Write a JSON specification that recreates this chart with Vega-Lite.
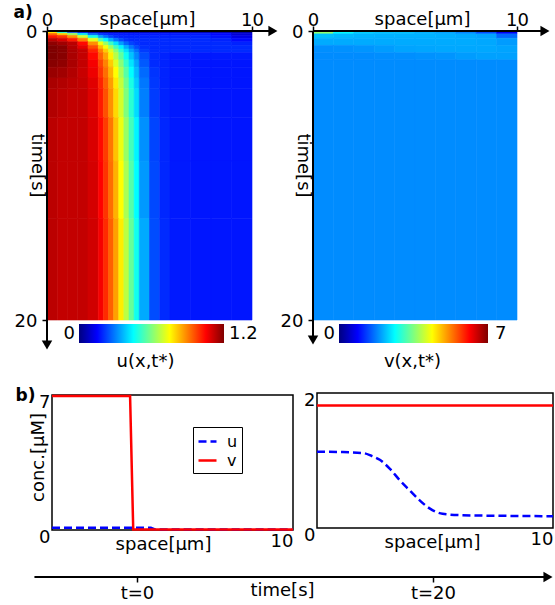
{
"$schema": "https://vega.github.io/schema/vega-lite/v6.json",
"width": 555,
"height": 605,
"autosize": {"type": "none"},
"padding": 0,
"background": "white",
"config": {
  "font": "DejaVu Sans",
  "view": {"stroke": null},
  "axis": {"labelFontSize": 18, "titleFontSize": 18, "titleFontWeight": "normal", "labelColor": "black", "titleColor": "black", "tickColor": "black", "domainColor": "black", "grid": false, "labelFont": "DejaVu Sans", "titleFont": "DejaVu Sans"},
  "legend": {"labelFont": "DejaVu Sans", "labelColor": "black"}
},
"resolve": {"scale": {"x": "independent", "y": "independent", "fill": "independent", "stroke": "independent"}},
"layer": [
{
  "layer": [
  {
    "data": {"values": [
{"x0":0,"x1":0.5,"t0":0,"t1":0.15,"u":0.75},{"x0":0.5,"x1":1,"t0":0,"t1":0.15,"u":0.45},{"x0":1,"x1":1.5,"t0":0,"t1":0.15,"u":0.22},{"x0":1.5,"x1":2,"t0":0,"t1":0.15,"u":0.1},{"x0":2,"x1":2.5,"t0":0,"t1":0.15,"u":0.05},{"x0":2.5,"x1":2.75,"t0":0,"t1":0.15,"u":0.05},{"x0":2.75,"x1":3,"t0":0,"t1":0.15,"u":0.05},{"x0":3,"x1":3.25,"t0":0,"t1":0.15,"u":0.05},{"x0":3.25,"x1":3.5,"t0":0,"t1":0.15,"u":0.05},{"x0":3.5,"x1":3.75,"t0":0,"t1":0.15,"u":0.05},{"x0":3.75,"x1":4,"t0":0,"t1":0.15,"u":0.05},{"x0":4,"x1":4.25,"t0":0,"t1":0.15,"u":0.05},{"x0":4.25,"x1":4.5,"t0":0,"t1":0.15,"u":0.05},{"x0":4.5,"x1":5,"t0":0,"t1":0.15,"u":0.05},{"x0":5,"x1":5.5,"t0":0,"t1":0.15,"u":0.05},{"x0":5.5,"x1":6,"t0":0,"t1":0.15,"u":0.05},{"x0":6,"x1":7,"t0":0,"t1":0.15,"u":0.05},{"x0":7,"x1":8,"t0":0,"t1":0.15,"u":0.05},{"x0":8,"x1":9,"t0":0,"t1":0.15,"u":0.05},{"x0":9,"x1":10,"t0":0,"t1":0.15,"u":0.04},
{"x0":0,"x1":0.5,"t0":0.15,"t1":0.3,"u":0.92},{"x0":0.5,"x1":1,"t0":0.15,"t1":0.3,"u":0.806},{"x0":1,"x1":1.5,"t0":0.15,"t1":0.3,"u":0.633},{"x0":1.5,"x1":2,"t0":0.15,"t1":0.3,"u":0.418},{"x0":2,"x1":2.5,"t0":0.15,"t1":0.3,"u":0.27},{"x0":2.5,"x1":2.75,"t0":0.15,"t1":0.3,"u":0.21},{"x0":2.75,"x1":3,"t0":0.15,"t1":0.3,"u":0.195},{"x0":3,"x1":3.25,"t0":0.15,"t1":0.3,"u":0.18},{"x0":3.25,"x1":3.5,"t0":0.15,"t1":0.3,"u":0.18},{"x0":3.5,"x1":3.75,"t0":0.15,"t1":0.3,"u":0.18},{"x0":3.75,"x1":4,"t0":0.15,"t1":0.3,"u":0.18},{"x0":4,"x1":4.25,"t0":0.15,"t1":0.3,"u":0.18},{"x0":4.25,"x1":4.5,"t0":0.15,"t1":0.3,"u":0.18},{"x0":4.5,"x1":5,"t0":0.15,"t1":0.3,"u":0.18},{"x0":5,"x1":5.5,"t0":0.15,"t1":0.3,"u":0.18},{"x0":5.5,"x1":6,"t0":0.15,"t1":0.3,"u":0.18},{"x0":6,"x1":7,"t0":0.15,"t1":0.3,"u":0.18},{"x0":7,"x1":8,"t0":0.15,"t1":0.3,"u":0.18},{"x0":8,"x1":9,"t0":0.15,"t1":0.3,"u":0.16},{"x0":9,"x1":10,"t0":0.15,"t1":0.3,"u":0.1},
{"x0":0,"x1":0.5,"t0":0.3,"t1":0.5,"u":1.02},{"x0":0.5,"x1":1,"t0":0.3,"t1":0.5,"u":0.986},{"x0":1,"x1":1.5,"t0":0.3,"t1":0.5,"u":0.878},{"x0":1.5,"x1":2,"t0":0.3,"t1":0.5,"u":0.69},{"x0":2,"x1":2.5,"t0":0.3,"t1":0.5,"u":0.475},{"x0":2.5,"x1":2.75,"t0":0.3,"t1":0.5,"u":0.34},{"x0":2.75,"x1":3,"t0":0.3,"t1":0.5,"u":0.28},{"x0":3,"x1":3.25,"t0":0.3,"t1":0.5,"u":0.23},{"x0":3.25,"x1":3.5,"t0":0.3,"t1":0.5,"u":0.2},{"x0":3.5,"x1":3.75,"t0":0.3,"t1":0.5,"u":0.19},{"x0":3.75,"x1":4,"t0":0.3,"t1":0.5,"u":0.19},{"x0":4,"x1":4.25,"t0":0.3,"t1":0.5,"u":0.19},{"x0":4.25,"x1":4.5,"t0":0.3,"t1":0.5,"u":0.19},{"x0":4.5,"x1":5,"t0":0.3,"t1":0.5,"u":0.19},{"x0":5,"x1":5.5,"t0":0.3,"t1":0.5,"u":0.19},{"x0":5.5,"x1":6,"t0":0.3,"t1":0.5,"u":0.19},{"x0":6,"x1":7,"t0":0.3,"t1":0.5,"u":0.19},{"x0":7,"x1":8,"t0":0.3,"t1":0.5,"u":0.19},{"x0":8,"x1":9,"t0":0.3,"t1":0.5,"u":0.17},{"x0":9,"x1":10,"t0":0.3,"t1":0.5,"u":0.12},
{"x0":0,"x1":0.5,"t0":0.5,"t1":0.75,"u":1.13},{"x0":0.5,"x1":1,"t0":0.5,"t1":0.75,"u":1.095},{"x0":1,"x1":1.5,"t0":0.5,"t1":0.75,"u":1.02},{"x0":1.5,"x1":2,"t0":0.5,"t1":0.75,"u":0.904},{"x0":2,"x1":2.5,"t0":0.5,"t1":0.75,"u":0.718},{"x0":2.5,"x1":2.75,"t0":0.5,"t1":0.75,"u":0.552},{"x0":2.75,"x1":3,"t0":0.5,"t1":0.75,"u":0.444},{"x0":3,"x1":3.25,"t0":0.5,"t1":0.75,"u":0.356},{"x0":3.25,"x1":3.5,"t0":0.5,"t1":0.75,"u":0.288},{"x0":3.5,"x1":3.75,"t0":0.5,"t1":0.75,"u":0.238},{"x0":3.75,"x1":4,"t0":0.5,"t1":0.75,"u":0.21},{"x0":4,"x1":4.25,"t0":0.5,"t1":0.75,"u":0.2},{"x0":4.25,"x1":4.5,"t0":0.5,"t1":0.75,"u":0.2},{"x0":4.5,"x1":5,"t0":0.5,"t1":0.75,"u":0.2},{"x0":5,"x1":5.5,"t0":0.5,"t1":0.75,"u":0.2},{"x0":5.5,"x1":6,"t0":0.5,"t1":0.75,"u":0.2},{"x0":6,"x1":7,"t0":0.5,"t1":0.75,"u":0.2},{"x0":7,"x1":8,"t0":0.5,"t1":0.75,"u":0.2},{"x0":8,"x1":9,"t0":0.5,"t1":0.75,"u":0.19},{"x0":9,"x1":10,"t0":0.5,"t1":0.75,"u":0.16},
{"x0":0,"x1":0.5,"t0":0.75,"t1":1,"u":1.18},{"x0":0.5,"x1":1,"t0":0.75,"t1":1,"u":1.16},{"x0":1,"x1":1.5,"t0":0.75,"t1":1,"u":1.13},{"x0":1.5,"x1":2,"t0":0.75,"t1":1,"u":1.04},{"x0":2,"x1":2.5,"t0":0.75,"t1":1,"u":0.88},{"x0":2.5,"x1":2.75,"t0":0.75,"t1":1,"u":0.74},{"x0":2.75,"x1":3,"t0":0.75,"t1":1,"u":0.63},{"x0":3,"x1":3.25,"t0":0.75,"t1":1,"u":0.52},{"x0":3.25,"x1":3.5,"t0":0.75,"t1":1,"u":0.42},{"x0":3.5,"x1":3.75,"t0":0.75,"t1":1,"u":0.335},{"x0":3.75,"x1":4,"t0":0.75,"t1":1,"u":0.27},{"x0":4,"x1":4.25,"t0":0.75,"t1":1,"u":0.23},{"x0":4.25,"x1":4.5,"t0":0.75,"t1":1,"u":0.21},{"x0":4.5,"x1":5,"t0":0.75,"t1":1,"u":0.2},{"x0":5,"x1":5.5,"t0":0.75,"t1":1,"u":0.2},{"x0":5.5,"x1":6,"t0":0.75,"t1":1,"u":0.2},{"x0":6,"x1":7,"t0":0.75,"t1":1,"u":0.2},{"x0":7,"x1":8,"t0":0.75,"t1":1,"u":0.2},{"x0":8,"x1":9,"t0":0.75,"t1":1,"u":0.2},{"x0":9,"x1":10,"t0":0.75,"t1":1,"u":0.19},
{"x0":0,"x1":0.5,"t0":1,"t1":1.25,"u":1.2},{"x0":0.5,"x1":1,"t0":1,"t1":1.25,"u":1.19},{"x0":1,"x1":1.5,"t0":1,"t1":1.25,"u":1.14},{"x0":1.5,"x1":2,"t0":1,"t1":1.25,"u":1.08},{"x0":2,"x1":2.5,"t0":1,"t1":1.25,"u":0.96},{"x0":2.5,"x1":2.75,"t0":1,"t1":1.25,"u":0.83},{"x0":2.75,"x1":3,"t0":1,"t1":1.25,"u":0.74},{"x0":3,"x1":3.25,"t0":1,"t1":1.25,"u":0.63},{"x0":3.25,"x1":3.5,"t0":1,"t1":1.25,"u":0.53},{"x0":3.5,"x1":3.75,"t0":1,"t1":1.25,"u":0.44},{"x0":3.75,"x1":4,"t0":1,"t1":1.25,"u":0.355},{"x0":4,"x1":4.25,"t0":1,"t1":1.25,"u":0.29},{"x0":4.25,"x1":4.5,"t0":1,"t1":1.25,"u":0.24},{"x0":4.5,"x1":5,"t0":1,"t1":1.25,"u":0.205},{"x0":5,"x1":5.5,"t0":1,"t1":1.25,"u":0.2},{"x0":5.5,"x1":6,"t0":1,"t1":1.25,"u":0.2},{"x0":6,"x1":7,"t0":1,"t1":1.25,"u":0.2},{"x0":7,"x1":8,"t0":1,"t1":1.25,"u":0.2},{"x0":8,"x1":9,"t0":1,"t1":1.25,"u":0.2},{"x0":9,"x1":10,"t0":1,"t1":1.25,"u":0.2},
{"x0":0,"x1":0.5,"t0":1.25,"t1":1.5,"u":1.2},{"x0":0.5,"x1":1,"t0":1.25,"t1":1.5,"u":1.19},{"x0":1,"x1":1.5,"t0":1.25,"t1":1.5,"u":1.15},{"x0":1.5,"x1":2,"t0":1.25,"t1":1.5,"u":1.12},{"x0":2,"x1":2.5,"t0":1.25,"t1":1.5,"u":1.01},{"x0":2.5,"x1":2.75,"t0":1.25,"t1":1.5,"u":0.9},{"x0":2.75,"x1":3,"t0":1.25,"t1":1.5,"u":0.81},{"x0":3,"x1":3.25,"t0":1.25,"t1":1.5,"u":0.71},{"x0":3.25,"x1":3.5,"t0":1.25,"t1":1.5,"u":0.61},{"x0":3.5,"x1":3.75,"t0":1.25,"t1":1.5,"u":0.51},{"x0":3.75,"x1":4,"t0":1.25,"t1":1.5,"u":0.415},{"x0":4,"x1":4.25,"t0":1.25,"t1":1.5,"u":0.34},{"x0":4.25,"x1":4.5,"t0":1.25,"t1":1.5,"u":0.28},{"x0":4.5,"x1":5,"t0":1.25,"t1":1.5,"u":0.22},{"x0":5,"x1":5.5,"t0":1.25,"t1":1.5,"u":0.2},{"x0":5.5,"x1":6,"t0":1.25,"t1":1.5,"u":0.2},{"x0":6,"x1":7,"t0":1.25,"t1":1.5,"u":0.2},{"x0":7,"x1":8,"t0":1.25,"t1":1.5,"u":0.2},{"x0":8,"x1":9,"t0":1.25,"t1":1.5,"u":0.2},{"x0":9,"x1":10,"t0":1.25,"t1":1.5,"u":0.2},
{"x0":0,"x1":0.5,"t0":1.5,"t1":2,"u":1.2},{"x0":0.5,"x1":1,"t0":1.5,"t1":2,"u":1.19},{"x0":1,"x1":1.5,"t0":1.5,"t1":2,"u":1.15},{"x0":1.5,"x1":2,"t0":1.5,"t1":2,"u":1.12},{"x0":2,"x1":2.5,"t0":1.5,"t1":2,"u":1.04},{"x0":2.5,"x1":2.75,"t0":1.5,"t1":2,"u":0.935},{"x0":2.75,"x1":3,"t0":1.5,"t1":2,"u":0.86},{"x0":3,"x1":3.25,"t0":1.5,"t1":2,"u":0.765},{"x0":3.25,"x1":3.5,"t0":1.5,"t1":2,"u":0.665},{"x0":3.5,"x1":3.75,"t0":1.5,"t1":2,"u":0.565},{"x0":3.75,"x1":4,"t0":1.5,"t1":2,"u":0.465},{"x0":4,"x1":4.25,"t0":1.5,"t1":2,"u":0.38},{"x0":4.25,"x1":4.5,"t0":1.5,"t1":2,"u":0.31},{"x0":4.5,"x1":5,"t0":1.5,"t1":2,"u":0.24},{"x0":5,"x1":5.5,"t0":1.5,"t1":2,"u":0.2},{"x0":5.5,"x1":6,"t0":1.5,"t1":2,"u":0.19},{"x0":6,"x1":7,"t0":1.5,"t1":2,"u":0.18},{"x0":7,"x1":8,"t0":1.5,"t1":2,"u":0.18},{"x0":8,"x1":9,"t0":1.5,"t1":2,"u":0.18},{"x0":9,"x1":10,"t0":1.5,"t1":2,"u":0.18},
{"x0":0,"x1":0.5,"t0":2,"t1":2.5,"u":1.19},{"x0":0.5,"x1":1,"t0":2,"t1":2.5,"u":1.18},{"x0":1,"x1":1.5,"t0":2,"t1":2.5,"u":1.15},{"x0":1.5,"x1":2,"t0":2,"t1":2.5,"u":1.12},{"x0":2,"x1":2.5,"t0":2,"t1":2.5,"u":1.06},{"x0":2.5,"x1":2.75,"t0":2,"t1":2.5,"u":0.97},{"x0":2.75,"x1":3,"t0":2,"t1":2.5,"u":0.895},{"x0":3,"x1":3.25,"t0":2,"t1":2.5,"u":0.81},{"x0":3.25,"x1":3.5,"t0":2,"t1":2.5,"u":0.71},{"x0":3.5,"x1":3.75,"t0":2,"t1":2.5,"u":0.61},{"x0":3.75,"x1":4,"t0":2,"t1":2.5,"u":0.51},{"x0":4,"x1":4.25,"t0":2,"t1":2.5,"u":0.42},{"x0":4.25,"x1":4.5,"t0":2,"t1":2.5,"u":0.345},{"x0":4.5,"x1":5,"t0":2,"t1":2.5,"u":0.255},{"x0":5,"x1":5.5,"t0":2,"t1":2.5,"u":0.2},{"x0":5.5,"x1":6,"t0":2,"t1":2.5,"u":0.19},{"x0":6,"x1":7,"t0":2,"t1":2.5,"u":0.18},{"x0":7,"x1":8,"t0":2,"t1":2.5,"u":0.175},{"x0":8,"x1":9,"t0":2,"t1":2.5,"u":0.175},{"x0":9,"x1":10,"t0":2,"t1":2.5,"u":0.175},
{"x0":0,"x1":0.5,"t0":2.5,"t1":3.25,"u":1.17},{"x0":0.5,"x1":1,"t0":2.5,"t1":3.25,"u":1.16},{"x0":1,"x1":1.5,"t0":2.5,"t1":3.25,"u":1.14},{"x0":1.5,"x1":2,"t0":2.5,"t1":3.25,"u":1.115},{"x0":2,"x1":2.5,"t0":2.5,"t1":3.25,"u":1.07},{"x0":2.5,"x1":2.75,"t0":2.5,"t1":3.25,"u":0.99},{"x0":2.75,"x1":3,"t0":2.5,"t1":3.25,"u":0.92},{"x0":3,"x1":3.25,"t0":2.5,"t1":3.25,"u":0.84},{"x0":3.25,"x1":3.5,"t0":2.5,"t1":3.25,"u":0.75},{"x0":3.5,"x1":3.75,"t0":2.5,"t1":3.25,"u":0.65},{"x0":3.75,"x1":4,"t0":2.5,"t1":3.25,"u":0.55},{"x0":4,"x1":4.25,"t0":2.5,"t1":3.25,"u":0.45},{"x0":4.25,"x1":4.5,"t0":2.5,"t1":3.25,"u":0.37},{"x0":4.5,"x1":5,"t0":2.5,"t1":3.25,"u":0.275},{"x0":5,"x1":5.5,"t0":2.5,"t1":3.25,"u":0.21},{"x0":5.5,"x1":6,"t0":2.5,"t1":3.25,"u":0.19},{"x0":6,"x1":7,"t0":2.5,"t1":3.25,"u":0.18},{"x0":7,"x1":8,"t0":2.5,"t1":3.25,"u":0.175},{"x0":8,"x1":9,"t0":2.5,"t1":3.25,"u":0.175},{"x0":9,"x1":10,"t0":2.5,"t1":3.25,"u":0.175},
{"x0":0,"x1":0.5,"t0":3.25,"t1":4,"u":1.15},{"x0":0.5,"x1":1,"t0":3.25,"t1":4,"u":1.14},{"x0":1,"x1":1.5,"t0":3.25,"t1":4,"u":1.13},{"x0":1.5,"x1":2,"t0":3.25,"t1":4,"u":1.12},{"x0":2,"x1":2.5,"t0":3.25,"t1":4,"u":1.085},{"x0":2.5,"x1":2.75,"t0":3.25,"t1":4,"u":1.01},{"x0":2.75,"x1":3,"t0":3.25,"t1":4,"u":0.94},{"x0":3,"x1":3.25,"t0":3.25,"t1":4,"u":0.865},{"x0":3.25,"x1":3.5,"t0":3.25,"t1":4,"u":0.775},{"x0":3.5,"x1":3.75,"t0":3.25,"t1":4,"u":0.68},{"x0":3.75,"x1":4,"t0":3.25,"t1":4,"u":0.58},{"x0":4,"x1":4.25,"t0":3.25,"t1":4,"u":0.48},{"x0":4.25,"x1":4.5,"t0":3.25,"t1":4,"u":0.39},{"x0":4.5,"x1":5,"t0":3.25,"t1":4,"u":0.29},{"x0":5,"x1":5.5,"t0":3.25,"t1":4,"u":0.215},{"x0":5.5,"x1":6,"t0":3.25,"t1":4,"u":0.19},{"x0":6,"x1":7,"t0":3.25,"t1":4,"u":0.18},{"x0":7,"x1":8,"t0":3.25,"t1":4,"u":0.175},{"x0":8,"x1":9,"t0":3.25,"t1":4,"u":0.175},{"x0":9,"x1":10,"t0":3.25,"t1":4,"u":0.175},
{"x0":0,"x1":0.5,"t0":4,"t1":6,"u":1.14},{"x0":0.5,"x1":1,"t0":4,"t1":6,"u":1.13},{"x0":1,"x1":1.5,"t0":4,"t1":6,"u":1.12},{"x0":1.5,"x1":2,"t0":4,"t1":6,"u":1.12},{"x0":2,"x1":2.5,"t0":4,"t1":6,"u":1.09},{"x0":2.5,"x1":2.75,"t0":4,"t1":6,"u":1.02},{"x0":2.75,"x1":3,"t0":4,"t1":6,"u":0.955},{"x0":3,"x1":3.25,"t0":4,"t1":6,"u":0.88},{"x0":3.25,"x1":3.5,"t0":4,"t1":6,"u":0.795},{"x0":3.5,"x1":3.75,"t0":4,"t1":6,"u":0.7},{"x0":3.75,"x1":4,"t0":4,"t1":6,"u":0.6},{"x0":4,"x1":4.25,"t0":4,"t1":6,"u":0.5},{"x0":4.25,"x1":4.5,"t0":4,"t1":6,"u":0.41},{"x0":4.5,"x1":5,"t0":4,"t1":6,"u":0.3},{"x0":5,"x1":5.5,"t0":4,"t1":6,"u":0.22},{"x0":5.5,"x1":6,"t0":4,"t1":6,"u":0.19},{"x0":6,"x1":7,"t0":4,"t1":6,"u":0.18},{"x0":7,"x1":8,"t0":4,"t1":6,"u":0.175},{"x0":8,"x1":9,"t0":4,"t1":6,"u":0.175},{"x0":9,"x1":10,"t0":4,"t1":6,"u":0.175},
{"x0":0,"x1":0.5,"t0":6,"t1":9,"u":1.13},{"x0":0.5,"x1":1,"t0":6,"t1":9,"u":1.12},{"x0":1,"x1":1.5,"t0":6,"t1":9,"u":1.12},{"x0":1.5,"x1":2,"t0":6,"t1":9,"u":1.12},{"x0":2,"x1":2.5,"t0":6,"t1":9,"u":1.095},{"x0":2.5,"x1":2.75,"t0":6,"t1":9,"u":1.04},{"x0":2.75,"x1":3,"t0":6,"t1":9,"u":0.98},{"x0":3,"x1":3.25,"t0":6,"t1":9,"u":0.91},{"x0":3.25,"x1":3.5,"t0":6,"t1":9,"u":0.82},{"x0":3.5,"x1":3.75,"t0":6,"t1":9,"u":0.73},{"x0":3.75,"x1":4,"t0":6,"t1":9,"u":0.63},{"x0":4,"x1":4.25,"t0":6,"t1":9,"u":0.53},{"x0":4.25,"x1":4.5,"t0":6,"t1":9,"u":0.44},{"x0":4.5,"x1":5,"t0":6,"t1":9,"u":0.32},{"x0":5,"x1":5.5,"t0":6,"t1":9,"u":0.23},{"x0":5.5,"x1":6,"t0":6,"t1":9,"u":0.195},{"x0":6,"x1":7,"t0":6,"t1":9,"u":0.18},{"x0":7,"x1":8,"t0":6,"t1":9,"u":0.175},{"x0":8,"x1":9,"t0":6,"t1":9,"u":0.175},{"x0":9,"x1":10,"t0":6,"t1":9,"u":0.175},
{"x0":0,"x1":0.5,"t0":9,"t1":13,"u":1.13},{"x0":0.5,"x1":1,"t0":9,"t1":13,"u":1.12},{"x0":1,"x1":1.5,"t0":9,"t1":13,"u":1.12},{"x0":1.5,"x1":2,"t0":9,"t1":13,"u":1.12},{"x0":2,"x1":2.5,"t0":9,"t1":13,"u":1.1},{"x0":2.5,"x1":2.75,"t0":9,"t1":13,"u":1.05},{"x0":2.75,"x1":3,"t0":9,"t1":13,"u":0.99},{"x0":3,"x1":3.25,"t0":9,"t1":13,"u":0.92},{"x0":3.25,"x1":3.5,"t0":9,"t1":13,"u":0.84},{"x0":3.5,"x1":3.75,"t0":9,"t1":13,"u":0.75},{"x0":3.75,"x1":4,"t0":9,"t1":13,"u":0.65},{"x0":4,"x1":4.25,"t0":9,"t1":13,"u":0.55},{"x0":4.25,"x1":4.5,"t0":9,"t1":13,"u":0.45},{"x0":4.5,"x1":5,"t0":9,"t1":13,"u":0.33},{"x0":5,"x1":5.5,"t0":9,"t1":13,"u":0.235},{"x0":5.5,"x1":6,"t0":9,"t1":13,"u":0.195},{"x0":6,"x1":7,"t0":9,"t1":13,"u":0.18},{"x0":7,"x1":8,"t0":9,"t1":13,"u":0.175},{"x0":8,"x1":9,"t0":9,"t1":13,"u":0.175},{"x0":9,"x1":10,"t0":9,"t1":13,"u":0.175},
{"x0":0,"x1":0.5,"t0":13,"t1":20,"u":1.13},{"x0":0.5,"x1":1,"t0":13,"t1":20,"u":1.12},{"x0":1,"x1":1.5,"t0":13,"t1":20,"u":1.12},{"x0":1.5,"x1":2,"t0":13,"t1":20,"u":1.12},{"x0":2,"x1":2.5,"t0":13,"t1":20,"u":1.105},{"x0":2.5,"x1":2.75,"t0":13,"t1":20,"u":1.06},{"x0":2.75,"x1":3,"t0":13,"t1":20,"u":1.0},{"x0":3,"x1":3.25,"t0":13,"t1":20,"u":0.935},{"x0":3.25,"x1":3.5,"t0":13,"t1":20,"u":0.86},{"x0":3.5,"x1":3.75,"t0":13,"t1":20,"u":0.77},{"x0":3.75,"x1":4,"t0":13,"t1":20,"u":0.67},{"x0":4,"x1":4.25,"t0":13,"t1":20,"u":0.57},{"x0":4.25,"x1":4.5,"t0":13,"t1":20,"u":0.47},{"x0":4.5,"x1":5,"t0":13,"t1":20,"u":0.35},{"x0":5,"x1":5.5,"t0":13,"t1":20,"u":0.24},{"x0":5.5,"x1":6,"t0":13,"t1":20,"u":0.2},{"x0":6,"x1":7,"t0":13,"t1":20,"u":0.18},{"x0":7,"x1":8,"t0":13,"t1":20,"u":0.175},{"x0":8,"x1":9,"t0":13,"t1":20,"u":0.175},{"x0":9,"x1":10,"t0":13,"t1":20,"u":0.175}
    ]},
    "mark": {"type": "rect", "strokeWidth": 0.6},
    "encoding": {
      "x": {"field": "x0", "type": "quantitative", "title": "space[µm]", "scale": {"domain": [0, 10], "range": [47, 252], "nice": false}, "axis": {"orient": "top", "offset": -31, "values": [0, 10], "title": "space[µm]", "domain": false, "tickSize": 5, "tickWidth": 1.5, "labelPadding": 1, "labelBaseline": "alphabetic", "labelFlush": false, "titleBaseline": "alphabetic", "titleY": -7, "titleX": 147}},
      "x2": {"field": "x1"},
      "y": {"field": "t0", "type": "quantitative", "title": "time[s]", "scale": {"domain": [0, 20], "range": [31, 320], "nice": false}, "axis": {"orient": "left", "offset": -47, "values": [0, 20], "title": "time[s]", "domain": false, "tickSize": 5, "tickWidth": 1.5, "labelPadding": 5, "labelBaseline": "middle", "labelOffset": 1, "titleAngle": 90, "titleBaseline": "top", "titleX": -2, "titleY": 165, "titleAlign": "center"}},
      "y2": {"field": "t1"},
      "fill": {"field": "u", "type": "quantitative", "scale": {"domain": [0, 0.15, 0.3, 0.45, 0.6, 0.75, 0.9, 1.05, 1.2], "range": ["#00007f", "#0000ff", "#007fff", "#00ffff", "#7fff7f", "#ffff00", "#ff7f00", "#ff0000", "#7f0000"], "interpolate": "rgb"}, "legend": null},
      "stroke": {"field": "u", "type": "quantitative", "scale": {"domain": [0, 0.15, 0.3, 0.45, 0.6, 0.75, 0.9, 1.05, 1.2], "range": ["#00007f", "#0000ff", "#007fff", "#00ffff", "#7fff7f", "#ffff00", "#ff7f00", "#ff0000", "#7f0000"], "interpolate": "rgb"}, "legend": null}
    }
  },
  {
    "data": {"values": [{"x": 0, "x2": 11.02, "y": 0, "y2": 0}, {"x": 0, "x2": 0, "y": 0, "y2": 21.73}]},
    "mark": {"type": "rule", "strokeWidth": 2, "color": "black"},
    "encoding": {"x": {"field": "x", "type": "quantitative", "title": "space[µm]"}, "x2": {"field": "x2"}, "y": {"field": "y", "type": "quantitative", "title": "time[s]"}, "y2": {"field": "y2"}}
  },
  {
    "data": {"values": [{"x": 11.02, "y": 0}]},
    "mark": {"type": "point", "shape": "triangle-right", "filled": true, "color": "black", "size": 110, "opacity": 1},
    "encoding": {"x": {"field": "x", "type": "quantitative", "title": "space[µm]"}, "y": {"field": "y", "type": "quantitative", "title": "time[s]"}}
  },
  {
    "data": {"values": [{"x": 0, "y": 21.73}]},
    "mark": {"type": "point", "shape": "triangle-down", "filled": true, "color": "black", "size": 110, "opacity": 1},
    "encoding": {"x": {"field": "x", "type": "quantitative", "title": "space[µm]"}, "y": {"field": "y", "type": "quantitative", "title": "time[s]"}}
  }
  ]
},
{
  "layer": [
  {
    "data": {"values": [
{"x0":0,"x1":1,"t0":0,"t1":0.2,"v":3.6},{"x0":1,"x1":2,"t0":0,"t1":0.2,"v":2.6},{"x0":2,"x1":3,"t0":0,"t1":0.2,"v":2.3},{"x0":3,"x1":4,"t0":0,"t1":0.2,"v":2.2},{"x0":4,"x1":5,"t0":0,"t1":0.2,"v":2.2},{"x0":5,"x1":6,"t0":0,"t1":0.2,"v":2.1},{"x0":6,"x1":7,"t0":0,"t1":0.2,"v":2.0},{"x0":7,"x1":8,"t0":0,"t1":0.2,"v":1.8},{"x0":8,"x1":9,"t0":0,"t1":0.2,"v":1.4},{"x0":9,"x1":10,"t0":0,"t1":0.2,"v":0.8},
{"x0":0,"x1":1,"t0":0.2,"t1":0.5,"v":2.2},{"x0":1,"x1":2,"t0":0.2,"t1":0.5,"v":2.15},{"x0":2,"x1":3,"t0":0.2,"t1":0.5,"v":2.12},{"x0":3,"x1":4,"t0":0.2,"t1":0.5,"v":2.1},{"x0":4,"x1":5,"t0":0.2,"t1":0.5,"v":2.1},{"x0":5,"x1":6,"t0":0.2,"t1":0.5,"v":2.1},{"x0":6,"x1":7,"t0":0.2,"t1":0.5,"v":2.08},{"x0":7,"x1":8,"t0":0.2,"t1":0.5,"v":2.05},{"x0":8,"x1":9,"t0":0.2,"t1":0.5,"v":2.0},{"x0":9,"x1":10,"t0":0.2,"t1":0.5,"v":1.6},
{"x0":0,"x1":1,"t0":0.5,"t1":1,"v":2.05},{"x0":1,"x1":2,"t0":0.5,"t1":1,"v":2.05},{"x0":2,"x1":3,"t0":0.5,"t1":1,"v":2.05},{"x0":3,"x1":4,"t0":0.5,"t1":1,"v":2.05},{"x0":4,"x1":5,"t0":0.5,"t1":1,"v":2.05},{"x0":5,"x1":6,"t0":0.5,"t1":1,"v":2.05},{"x0":6,"x1":7,"t0":0.5,"t1":1,"v":2.05},{"x0":7,"x1":8,"t0":0.5,"t1":1,"v":2.05},{"x0":8,"x1":9,"t0":0.5,"t1":1,"v":2.03},{"x0":9,"x1":10,"t0":0.5,"t1":1,"v":1.95},
{"x0":0,"x1":1,"t0":1,"t1":1.5,"v":1.86},{"x0":1,"x1":2,"t0":1,"t1":1.5,"v":1.87},{"x0":2,"x1":3,"t0":1,"t1":1.5,"v":1.9},{"x0":3,"x1":4,"t0":1,"t1":1.5,"v":1.95},{"x0":4,"x1":5,"t0":1,"t1":1.5,"v":2.0},{"x0":5,"x1":6,"t0":1,"t1":1.5,"v":2.02},{"x0":6,"x1":7,"t0":1,"t1":1.5,"v":2.03},{"x0":7,"x1":8,"t0":1,"t1":1.5,"v":2.03},{"x0":8,"x1":9,"t0":1,"t1":1.5,"v":2.03},{"x0":9,"x1":10,"t0":1,"t1":1.5,"v":2.0},
{"x0":0,"x1":1,"t0":1.5,"t1":2,"v":1.84},{"x0":1,"x1":2,"t0":1.5,"t1":2,"v":1.84},{"x0":2,"x1":3,"t0":1.5,"t1":2,"v":1.84},{"x0":3,"x1":4,"t0":1.5,"t1":2,"v":1.85},{"x0":4,"x1":5,"t0":1.5,"t1":2,"v":1.86},{"x0":5,"x1":6,"t0":1.5,"t1":2,"v":1.88},{"x0":6,"x1":7,"t0":1.5,"t1":2,"v":1.9},{"x0":7,"x1":8,"t0":1.5,"t1":2,"v":1.95},{"x0":8,"x1":9,"t0":1.5,"t1":2,"v":1.98},{"x0":9,"x1":10,"t0":1.5,"t1":2,"v":1.98},
{"x0":0,"x1":1,"t0":2,"t1":20,"v":1.84},{"x0":1,"x1":2,"t0":2,"t1":20,"v":1.84},{"x0":2,"x1":3,"t0":2,"t1":20,"v":1.84},{"x0":3,"x1":4,"t0":2,"t1":20,"v":1.84},{"x0":4,"x1":5,"t0":2,"t1":20,"v":1.84},{"x0":5,"x1":6,"t0":2,"t1":20,"v":1.84},{"x0":6,"x1":7,"t0":2,"t1":20,"v":1.84},{"x0":7,"x1":8,"t0":2,"t1":20,"v":1.84},{"x0":8,"x1":9,"t0":2,"t1":20,"v":1.84},{"x0":9,"x1":10,"t0":2,"t1":20,"v":1.84}
    ]},
    "mark": {"type": "rect", "strokeWidth": 0.6},
    "encoding": {
      "x": {"field": "x0", "type": "quantitative", "title": "space[µm]", "scale": {"domain": [0, 10], "range": [313, 517], "nice": false}, "axis": {"orient": "top", "offset": -31, "values": [0, 10], "title": "space[µm]", "domain": false, "tickSize": 5, "tickWidth": 1.5, "labelPadding": 1, "labelBaseline": "alphabetic", "labelFlush": false, "titleBaseline": "alphabetic", "titleY": -7, "titleX": 422}},
      "x2": {"field": "x1"},
      "y": {"field": "t0", "type": "quantitative", "title": "time[s]", "scale": {"domain": [0, 20], "range": [31, 320], "nice": false}, "axis": {"orient": "left", "offset": -313, "values": [0, 20], "title": "time[s]", "domain": false, "tickSize": 5, "tickWidth": 1.5, "labelPadding": 5, "labelBaseline": "middle", "labelOffset": 1, "titleAngle": 90, "titleBaseline": "top", "titleX": -2, "titleY": 165, "titleAlign": "center"}},
      "y2": {"field": "t1"},
      "fill": {"field": "v", "type": "quantitative", "scale": {"domain": [0, 0.875, 1.75, 2.625, 3.5, 4.375, 5.25, 6.125, 7], "range": ["#00007f", "#0000ff", "#007fff", "#00ffff", "#7fff7f", "#ffff00", "#ff7f00", "#ff0000", "#7f0000"], "interpolate": "rgb"}, "legend": null},
      "stroke": {"field": "v", "type": "quantitative", "scale": {"domain": [0, 0.875, 1.75, 2.625, 3.5, 4.375, 5.25, 6.125, 7], "range": ["#00007f", "#0000ff", "#007fff", "#00ffff", "#7fff7f", "#ffff00", "#ff7f00", "#ff0000", "#7f0000"], "interpolate": "rgb"}, "legend": null}
    }
  },
  {
    "data": {"values": [{"x": 0, "x2": 11.37, "y": 0, "y2": 0}, {"x": 0, "x2": 0, "y": 0, "y2": 21.38}]},
    "mark": {"type": "rule", "strokeWidth": 2, "color": "black"},
    "encoding": {"x": {"field": "x", "type": "quantitative", "title": "space[µm]"}, "x2": {"field": "x2"}, "y": {"field": "y", "type": "quantitative", "title": "time[s]"}, "y2": {"field": "y2"}}
  },
  {
    "data": {"values": [{"x": 11.37, "y": 0}]},
    "mark": {"type": "point", "shape": "triangle-right", "filled": true, "color": "black", "size": 110, "opacity": 1},
    "encoding": {"x": {"field": "x", "type": "quantitative", "title": "space[µm]"}, "y": {"field": "y", "type": "quantitative", "title": "time[s]"}}
  },
  {
    "data": {"values": [{"x": 0, "y": 21.38}]},
    "mark": {"type": "point", "shape": "triangle-down", "filled": true, "color": "black", "size": 110, "opacity": 1},
    "encoding": {"x": {"field": "x", "type": "quantitative", "title": "space[µm]"}, "y": {"field": "y", "type": "quantitative", "title": "time[s]"}}
  }
  ]
},
{
  "data": {"values": [{"lo": 0, "hi": 1.2}]},
  "layer": [
    {"mark": {"type": "rect", "fill": {"gradient": "linear", "x1": 0, "y1": 0, "x2": 1, "y2": 0, "stops": [{"offset": 0, "color": "#00007f"}, {"offset": 0.125, "color": "#0000ff"}, {"offset": 0.25, "color": "#007fff"}, {"offset": 0.375, "color": "#00ffff"}, {"offset": 0.5, "color": "#7fff7f"}, {"offset": 0.625, "color": "#ffff00"}, {"offset": 0.75, "color": "#ff7f00"}, {"offset": 0.875, "color": "#ff0000"}, {"offset": 1, "color": "#7f0000"}]}},
     "encoding": {
       "x": {"field": "lo", "type": "quantitative", "title": "u(x,t*)", "scale": {"domain": [0, 1.2], "range": [79, 224], "nice": false}, "axis": {"orient": "bottom", "offset": -262, "title": "u(x,t*)", "labels": false, "ticks": false, "domain": false, "titleBaseline": "top", "titleY": 9, "titleX": 145}},
       "x2": {"field": "hi"},
       "y": {"datum": 0, "type": "quantitative", "scale": {"domain": [0, 1], "range": [343, 324], "nice": false}, "axis": {"orient": "left", "offset": 0, "title": "a)", "labels": false, "ticks": false, "domain": false, "titleAngle": 0, "titleX": 13, "titleY": 17, "titleAlign": "left", "titleBaseline": "alphabetic", "titleFontWeight": "bold", "titleFontSize": 17}},
       "y2": {"datum": 1}
     }},
    {"mark": {"type": "text", "align": "right", "dx": -4, "fontSize": 18, "baseline": "middle", "color": "black"},
     "encoding": {"x": {"field": "lo", "type": "quantitative", "title": "u(x,t*)"}, "y": {"datum": 0.5, "type": "quantitative"}, "text": {"field": "lo", "type": "quantitative"}}},
    {"mark": {"type": "text", "align": "left", "dx": 5, "fontSize": 18, "baseline": "middle", "color": "black"},
     "encoding": {"x": {"field": "hi", "type": "quantitative", "title": "u(x,t*)"}, "y": {"datum": 0.5, "type": "quantitative"}, "text": {"field": "hi", "type": "quantitative"}}}
  ]
},
{
  "data": {"values": [{"lo": 0, "hi": 7}]},
  "layer": [
    {"mark": {"type": "rect", "fill": {"gradient": "linear", "x1": 0, "y1": 0, "x2": 1, "y2": 0, "stops": [{"offset": 0, "color": "#00007f"}, {"offset": 0.125, "color": "#0000ff"}, {"offset": 0.25, "color": "#007fff"}, {"offset": 0.375, "color": "#00ffff"}, {"offset": 0.5, "color": "#7fff7f"}, {"offset": 0.625, "color": "#ffff00"}, {"offset": 0.75, "color": "#ff7f00"}, {"offset": 0.875, "color": "#ff0000"}, {"offset": 1, "color": "#7f0000"}]}},
     "encoding": {
       "x": {"field": "lo", "type": "quantitative", "title": "v(x,t*)", "scale": {"domain": [0, 7], "range": [339, 488], "nice": false}, "axis": {"orient": "bottom", "offset": -262, "title": "v(x,t*)", "labels": false, "ticks": false, "domain": false, "titleBaseline": "top", "titleY": 9, "titleX": 412}},
       "x2": {"field": "hi"},
       "y": {"datum": 0, "type": "quantitative", "scale": {"domain": [0, 1], "range": [343, 324], "nice": false}, "axis": {"orient": "left", "offset": 0, "title": "b)", "labels": false, "ticks": false, "domain": false, "titleAngle": 0, "titleX": 15, "titleY": 400, "titleAlign": "left", "titleBaseline": "alphabetic", "titleFontWeight": "bold", "titleFontSize": 17}},
       "y2": {"datum": 1}
     }},
    {"mark": {"type": "text", "align": "right", "dx": -4, "fontSize": 18, "baseline": "middle", "color": "black"},
     "encoding": {"x": {"field": "lo", "type": "quantitative", "title": "v(x,t*)"}, "y": {"datum": 0.5, "type": "quantitative"}, "text": {"field": "lo", "type": "quantitative"}}},
    {"mark": {"type": "text", "align": "left", "dx": 7, "fontSize": 18, "baseline": "middle", "color": "black"},
     "encoding": {"x": {"field": "hi", "type": "quantitative", "title": "v(x,t*)"}, "y": {"datum": 0.5, "type": "quantitative"}, "text": {"field": "hi", "type": "quantitative"}}}
  ]
},
{
  "layer": [
    {
      "data": {"values": [{}]},
      "mark": {"type": "rect", "fillOpacity": 0, "stroke": "black", "strokeWidth": 1.5},
      "encoding": {
        "x": {"datum": 0, "type": "quantitative", "scale": {"domain": [0, 10], "range": [52, 293], "nice": false}, "axis": {"orient": "bottom", "offset": -75, "values": [10], "ticks": false, "domain": false, "labelPadding": 2, "labelFlush": true, "title": "space[µm]", "titleBaseline": "top", "titleY": 5, "titleX": 163}},
        "x2": {"datum": 10},
        "y": {"datum": 0, "type": "quantitative", "scale": {"domain": [0, 7], "range": [530, 395], "nice": false}, "axis": {"orient": "left", "offset": -52, "values": [0, 7], "format": "d", "ticks": false, "domain": false, "labelPadding": 2, "labelBaseline": "top", "labelOffset": -2, "title": "conc.[µM]", "titleX": -5, "titleY": 457, "titleBaseline": "bottom", "titleAlign": "center"}},
        "y2": {"datum": 7}
      }
    },
    {
      "data": {"values": [
        {"x": 0, "c": 0.12, "s": "u"}, {"x": 4.1, "c": 0.12, "s": "u"}, {"x": 4.3, "c": 0.02, "s": "u"}, {"x": 10, "c": 0.02, "s": "u"},
        {"x": 0, "c": 6.95, "s": "v"}, {"x": 3.24, "c": 6.95, "s": "v"}, {"x": 3.37, "c": 0.03, "s": "v"}, {"x": 10, "c": 0.03, "s": "v"}
      ]},
      "mark": {"type": "line", "strokeWidth": 2.5},
      "encoding": {
        "x": {"field": "x", "type": "quantitative", "title": "space[µm]"},
        "y": {"field": "c", "type": "quantitative", "title": "conc.[µM]"},
        "color": {"field": "s", "type": "nominal", "scale": {"domain": ["u", "v"], "range": ["#0000ff", "#ff0000"]}, "legend": {"title": null, "orient": "none", "legendX": 193, "legendY": 427, "strokeColor": "black", "fillColor": "white", "padding": 4, "symbolType": "stroke", "symbolSize": 324, "symbolStrokeWidth": 2.5, "labelFontSize": 16, "rowPadding": -10, "labelOffset": 9}},
        "strokeDash": {"field": "s", "type": "nominal", "scale": {"domain": ["u", "v"], "range": [[8, 4], [1, 0]]}, "legend": {"title": null, "orient": "none", "legendX": 193, "legendY": 427, "strokeColor": "black", "fillColor": "white", "padding": 4, "symbolType": "stroke", "symbolSize": 324, "symbolStrokeWidth": 2.5, "labelFontSize": 16, "rowPadding": -10, "labelOffset": 9}}
      }
    }
  ]
},
{
  "layer": [
    {
      "data": {"values": [{}]},
      "mark": {"type": "rect", "fillOpacity": 0, "stroke": "black", "strokeWidth": 1.5},
      "encoding": {
        "x": {"datum": 0, "type": "quantitative", "scale": {"domain": [0, 10], "range": [317, 553], "nice": false}, "axis": {"orient": "bottom", "offset": -77, "values": [10], "ticks": false, "domain": false, "labelPadding": 2, "labelFlush": true, "title": "space[µm]", "titleBaseline": "top", "titleY": 5, "titleX": 432}},
        "x2": {"datum": 10},
        "y": {"datum": 0, "type": "quantitative", "scale": {"domain": [0, 2], "range": [528, 393], "nice": false}, "axis": {"orient": "left", "offset": -317, "values": [0, 2], "format": "d", "ticks": false, "domain": false, "labelPadding": 2, "labelBaseline": "top", "labelOffset": -2, "title": null}},
        "y2": {"datum": 2}
      }
    },
    {
      "data": {"values": [
        {"x": 0, "c": 1.13, "s": "u"}, {"x": 1, "c": 1.125, "s": "u"}, {"x": 1.95, "c": 1.11, "s": "u"}, {"x": 2.3, "c": 1.07, "s": "u"}, {"x": 2.66, "c": 1.01, "s": "u"}, {"x": 3.08, "c": 0.88, "s": "u"}, {"x": 3.5, "c": 0.71, "s": "u"}, {"x": 3.92, "c": 0.56, "s": "u"}, {"x": 4.35, "c": 0.41, "s": "u"}, {"x": 4.77, "c": 0.29, "s": "u"}, {"x": 5.32, "c": 0.21, "s": "u"}, {"x": 6.16, "c": 0.19, "s": "u"}, {"x": 8, "c": 0.18, "s": "u"}, {"x": 10, "c": 0.175, "s": "u"},
        {"x": 0, "c": 1.815, "s": "v"}, {"x": 10, "c": 1.815, "s": "v"}
      ]},
      "mark": {"type": "line", "strokeWidth": 2.5, "interpolate": "monotone"},
      "encoding": {
        "x": {"field": "x", "type": "quantitative", "title": "space[µm]"},
        "y": {"field": "c", "type": "quantitative"},
        "color": {"field": "s", "type": "nominal", "scale": {"domain": ["u", "v"], "range": ["#0000ff", "#ff0000"]}},
        "strokeDash": {"field": "s", "type": "nominal", "scale": {"domain": ["u", "v"], "range": [[8, 4], [1, 0]]}}
      }
    }
  ]
},
{
  "data": {"values": [{"t": -6.93, "t2": 27.77}]},
  "layer": [
    {
      "mark": {"type": "rule", "strokeWidth": 2, "color": "black"},
      "encoding": {
        "x": {"field": "t", "type": "quantitative", "title": "time[s]", "scale": {"domain": [0, 20], "range": [137, 433], "nice": false}, "axis": {"orient": "bottom", "offset": -28, "values": [0, 20], "labelExpr": "'t=' + datum.label", "title": "time[s]", "domain": false, "tickSize": 5, "tickWidth": 1.5, "labelPadding": 2, "labelFlush": false, "titleX": 282, "titleY": 4, "titleBaseline": "top"}},
        "x2": {"field": "t2"},
        "y": {"datum": 0, "type": "quantitative", "scale": {"domain": [0, 1], "range": [577, 567], "nice": false}, "axis": null}
      }
    },
    {
      "mark": {"type": "point", "shape": "triangle-right", "filled": true, "color": "black", "size": 110, "opacity": 1},
      "encoding": {
        "x": {"field": "t2", "type": "quantitative", "title": "time[s]"},
        "y": {"datum": 0, "type": "quantitative"}
      }
    }
  ]
}
]
}
